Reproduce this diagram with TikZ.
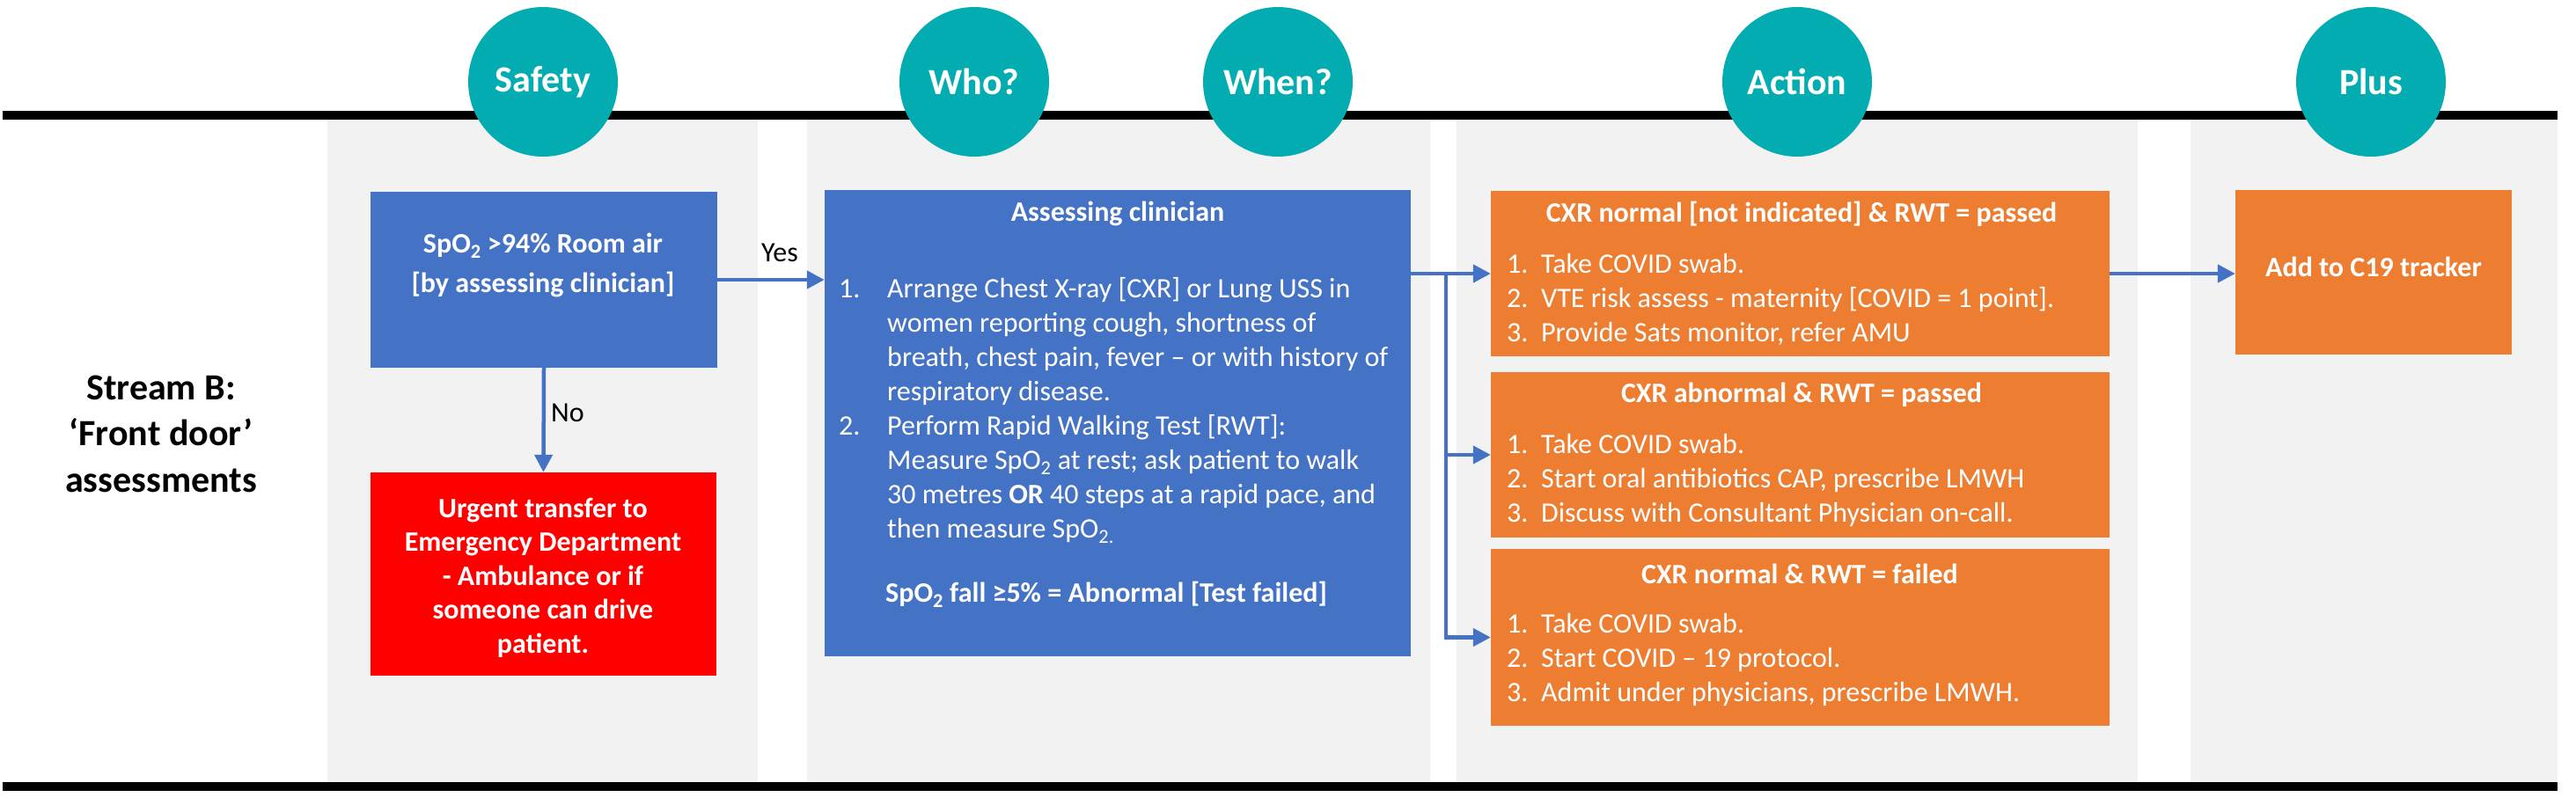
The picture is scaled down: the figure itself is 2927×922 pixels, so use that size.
\documentclass[tikz,border=0pt]{standalone}
\usepackage{fontspec}
\setmainfont{Carlito}
\usetikzlibrary{arrows.meta}
\definecolor{cblue}{HTML}{4472C4}
\definecolor{corange}{HTML}{ED7D31}
\definecolor{cteal}{HTML}{03ACB0}
\definecolor{cgray}{HTML}{F2F2F2}
\newcommand{\fs}[2]{\fontsize{#1}{#2}\selectfont}
\begin{document}
\begin{tikzpicture}[x=1pt,y=-1pt,
  topic/.style={circle, fill=cteal, minimum size=170pt, inner sep=0pt, text=white, font=\fs{42}{50}\bfseries},
  bbox/.style={fill=cblue, draw=none, inner sep=0pt},
  obox/.style={fill=corange, draw=none, inner sep=0pt},
  wtxt/.style={text=white, inner sep=0pt},
  body/.style={font=\fs{32}{39}},
  head/.style={font=\fs{32}{39}\bfseries},
  flowline/.style={draw=cblue, line width=4.5pt},
  flow/.style={flowline, -{Triangle[length=20pt,width=20pt]}},
  blackrule/.style={line width=10pt, black},
]
\useasboundingbox (0,0) rectangle (2927,922);
% lanes
\fill[cgray] (372,136) rectangle (861,889);
\fill[cgray] (917,136) rectangle (1625,889);
\fill[cgray] (1655,136) rectangle (2429,889);
\fill[cgray] (2489,136) rectangle (2906,889);
% rules
\draw[blackrule] (3,131) -- (2906,131);
\draw[blackrule] (3,894) -- (2906,894);
% topics
\node[topic] (safety) at (617,93) {Safety};
\node[topic] (who) at (1107,93) {Who?};
\node[topic] (when) at (1452,93) {When?};
\node[topic] (action) at (2042,93) {Action};
\node[topic] (plusc) at (2694,93) {Plus};
% stream label
\node[align=center, font=\fs{42}{52.5}\bfseries, inner sep=0pt] (stream) at (183,493) {Stream B:\\‘Front door’\\assessments};
% safety column
\node[bbox, minimum width=394pt, minimum height=200pt] (spo2) at (618,318) {};
\node[wtxt, align=center, font=\fs{32}{45}\bfseries] (spo2t) at (617,301) {SpO\textsubscript{2} >94\% Room air\\{}[by assessing clinician]};
\node[fill=red, minimum width=393pt, minimum height=231pt, inner sep=0pt] (urgent) at (617.5,652.5) {};
\node[wtxt, align=center, font=\fs{32}{38.5}\bfseries] (urgentt) at (617,656.5) {Urgent transfer to\\Emergency Department\\- Ambulance or if\\someone can drive\\patient.};
% who/when column
\node[bbox, minimum width=666pt, minimum height=530pt] (assess) at (1270,481) {};
\node[wtxt, head] (assessh) at (1270,243) {Assessing clinician};
\node[wtxt, body, align=left, anchor=north west] (assessl) at (953,315) {%
\makebox[55pt][l]{1.}Arrange Chest X-ray [CXR] or Lung USS in\\
\hspace*{55pt}women reporting cough, shortness of\\
\hspace*{55pt}breath, chest pain, fever -- or with history of\\
\hspace*{55pt}respiratory disease.\\
\makebox[55pt][l]{2.}Perform Rapid Walking Test [RWT]:\\
\hspace*{55pt}Measure SpO\textsubscript{2} at rest; ask patient to walk\\
\hspace*{55pt}30 metres \textbf{OR} 40 steps at a rapid pace, and\\
\hspace*{55pt}then measure SpO\textsubscript{2.}};
\node[wtxt, head] (assessf) at (1257,676) {SpO\textsubscript{2} fall ≥5\% = Abnormal [Test failed]};
% action column
\node[obox, minimum width=703pt, minimum height=188pt] (o1) at (2045.5,311) {};
\node[wtxt, head] (o1h) at (2047,243) {CXR normal [not indicated] \& RWT = passed};
\node[wtxt, body, align=left, anchor=north west] (o1l) at (1712,288) {%
\makebox[39pt][l]{1.}Take COVID swab.\\
\makebox[39pt][l]{2.}VTE risk assess - maternity [COVID = 1 point].\\
\makebox[39pt][l]{3.}Provide Sats monitor, refer AMU};
\node[obox, minimum width=703pt, minimum height=188pt] (o2) at (2045.5,517) {};
\node[wtxt, head] (o2h) at (2047,449) {CXR abnormal \& RWT = passed};
\node[wtxt, body, align=left, anchor=north west] (o2l) at (1712,493.5) {%
\makebox[39pt][l]{1.}Take COVID swab.\\
\makebox[39pt][l]{2.}Start oral antibiotics CAP, prescribe LMWH\\
\makebox[39pt][l]{3.}Discuss with Consultant Physician on-call.};
\node[obox, minimum width=703pt, minimum height=201pt] (o3) at (2045.5,724.5) {};
\node[wtxt, head] (o3h) at (2045,652) {CXR normal \& RWT = failed};
\node[wtxt, body, align=left, anchor=north west] (o3l) at (1712,697) {%
\makebox[39pt][l]{1.}Take COVID swab.\\
\makebox[39pt][l]{2.}Start COVID -- 19 protocol.\\
\makebox[39pt][l]{3.}Admit under physicians, prescribe LMWH.};
% plus column
\node[obox, minimum width=314pt, minimum height=187pt] (plus) at (2697,309.5) {};
\node[wtxt, head] (plust) at (2697,303) {Add to C19 tracker};
% connectors
\draw[flow] (spo2.east) -- (spo2.east -| assess.west);
\node[font=\fs{32}{39}, inner sep=0pt] (yes) at (886,287) {Yes};
\draw[flow] (spo2.south) -- (urgent.north);
\node[font=\fs{32}{39}, inner sep=0pt] (no) at (645,469) {No};
\coordinate (br) at (1643,311);
\draw[flow] (assess.east |- o1.west) -- (o1.west);
\draw[flow] (br) -- (br |- o3.west) -- (o3.west);
\draw[flow] (br |- o2.west) -- (o2.west);
\draw[flow] (o1.east) -- (o1.east -| plus.west);
\end{tikzpicture}
\end{document}
